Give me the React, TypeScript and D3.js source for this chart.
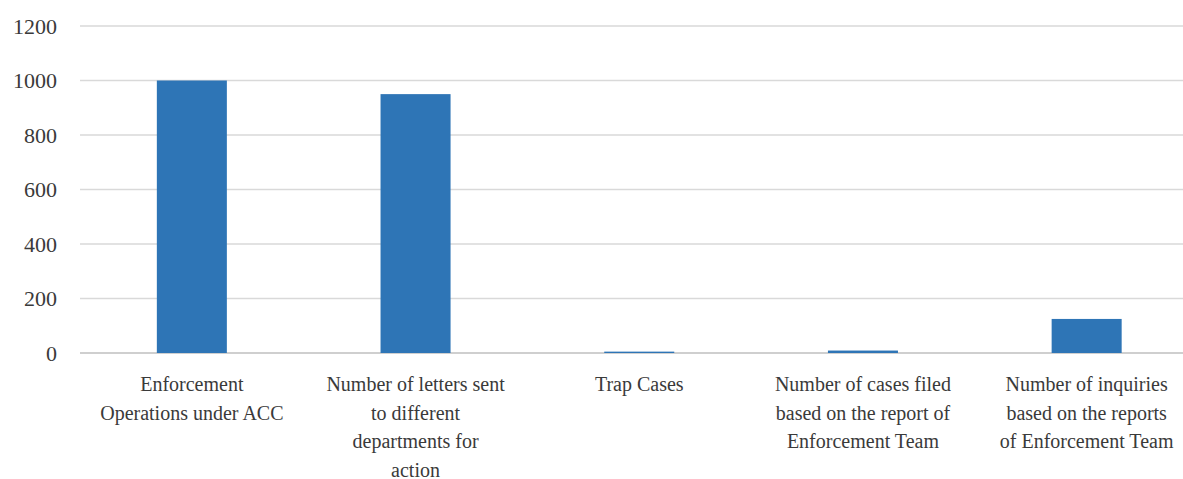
import React from "react";
import * as d3 from "d3";

const categories = [
  "Enforcement\nOperations under ACC",
  "Number of letters sent\nto different\ndepartments for\naction",
  "Trap Cases",
  "Number of cases filed\nbased on the report of\nEnforcement Team",
  "Number of inquiries\nbased on the reports\nof Enforcement Team",
];
const values = [1000, 950, 5, 9, 125];
const yTicks = [0, 200, 400, 600, 800, 1000, 1200];

const W = 1183;
const H = 479;
const margin = { left: 80, right: -15.5, top: 26, bottom: 126 };

export default function App() {
  const x = d3
    .scaleBand<string>()
    .domain(categories)
    .range([margin.left, W - margin.right])
    .paddingInner(0.687)
    .paddingOuter(0.3435);
  const y = d3.scaleLinear().domain([0, 1200]).range([H - margin.bottom, margin.top]);
  const font = '"Liberation Serif", "Times New Roman", serif';
  return (
    <svg
      width={W}
      height={H}
      style={{ position: "absolute", left: 0, top: 0, background: "#fff", fontFamily: font }}
    >
      {yTicks.map((t) => (
        <g key={t}>
          <line
            x1={margin.left}
            x2={W}
            y1={y(t)}
            y2={y(t)}
            stroke={t === 0 ? "#bfbfbf" : "#d9d9d9"}
            strokeWidth={1.3}
          />
          <text x={57} y={y(t)} dy="0.35em" textAnchor="end" fontSize={22} fill="#3a3a3a" style={{ fontFamily: font }}>
            {t}
          </text>
        </g>
      ))}
      {categories.map((c, i) => (
        <rect
          key={c}
          x={x(c)}
          width={x.bandwidth()}
          y={y(values[i])}
          height={y(0) - y(values[i])}
          fill="#2e75b6"
        />
      ))}
      {categories.map((c) => {
        const cx = (x(c) as number) + x.bandwidth() / 2;
        return (
          <text key={c} textAnchor="middle" fontSize={20} fill="#3a3a3a" style={{ fontFamily: font }}>
            {c.split("\n").map((line, j) => (
              <tspan key={j} x={cx} y={391 + j * 28.5}>
                {line}
              </tspan>
            ))}
          </text>
        );
      })}
    </svg>
  );
}
